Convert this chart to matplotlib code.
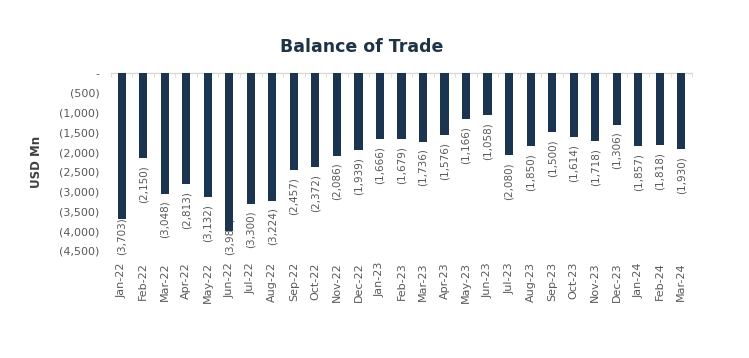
import matplotlib
matplotlib.use("Agg")
import matplotlib.pyplot as plt
import numpy as np
from matplotlib.ticker import FuncFormatter

months = ["Jan-22", "Feb-22", "Mar-22", "Apr-22", "May-22", "Jun-22", "Jul-22",
          "Aug-22", "Sep-22", "Oct-22", "Nov-22", "Dec-22", "Jan-23", "Feb-23",
          "Mar-23", "Apr-23", "May-23", "Jun-23", "Jul-23", "Aug-23", "Sep-23",
          "Oct-23", "Nov-23", "Dec-23", "Jan-24", "Feb-24", "Mar-24"]
balance = [-3703, -2150, -3048, -2813, -3132, -3988, -3300, -3224, -2457, -2372,
           -2086, -1939, -1666, -1679, -1736, -1576, -1166, -1058, -2080, -1850,
           -1500, -1614, -1718, -1306, -1857, -1818, -1930]
yticks = [0, -500, -1000, -1500, -2000, -2500, -3000, -3500, -4000, -4500]

bar_color = "#1b3550"
text_color = "#595959"

plt.rcParams['font.family'] = ['DejaVu Sans']

fig = plt.figure(figsize=(7.49, 3.58), dpi=100)
ax = fig.add_axes([0.148, 0.299, 0.776, 0.497])

x = np.arange(len(months))
ax.bar(x, balance, width=0.38, color=bar_color, zorder=3)


def paren(v, pos=None):
    if v == 0:
        return "-"
    return "({:,.0f})".format(abs(v))


ax.set_xlim(-0.5, len(months) - 0.5)
ax.set_ylim(-4500, 0)

# data labels just below each bar end
labels = []
for xi, v in zip(x, balance):
    t = ax.annotate(paren(v), (xi, v), xytext=(0, -5), textcoords="offset points",
                    rotation=90, ha="center", va="top", fontsize=7.5,
                    color=text_color, zorder=2, annotation_clip=False)
    labels.append(t)

# push labels that run past the floor back up (they slide under the bar)
fig.canvas.draw()
renderer = fig.canvas.get_renderer()
floor_px = ax.transData.transform((0, -4600))[1]
for t in labels:
    bb = t.get_window_extent(renderer)
    if bb.y0 < floor_px:
        shift = (floor_px - bb.y0) * 72 / fig.dpi
        ox, oy = t.xyann
        t.xyann = (ox, oy + shift)

ax.set_yticks(yticks)
ax.yaxis.set_major_formatter(FuncFormatter(paren))
ax.set_xticks(x)
ax.set_xticklabels(months, rotation=90)
ax.set_xticks(np.arange(len(months) + 1) - 0.5, minor=True)

for s in ["left", "right", "bottom"]:
    ax.spines[s].set_visible(False)
ax.spines["top"].set_color("#d9d9d9")
ax.spines["top"].set_linewidth(1.0)

ax.tick_params(axis="y", length=0, labelsize=8, labelcolor=text_color, pad=8)
ax.tick_params(axis="x", which="major", length=0, labelsize=8,
               labelcolor=text_color, pad=8)
ax.tick_params(axis="x", which="minor", bottom=False, top=True,
               direction="in", length=3, color="#d9d9d9")

ax.set_ylabel("USD Mn", fontsize=8.5, fontweight="bold", color="#404040",
              labelpad=12)

fig.text(0.483, 0.87, "Balance of Trade", ha="center", va="center",
         fontsize=12.5, fontweight="bold", color="#1f3347")

fig.savefig("out.png", dpi=100)
